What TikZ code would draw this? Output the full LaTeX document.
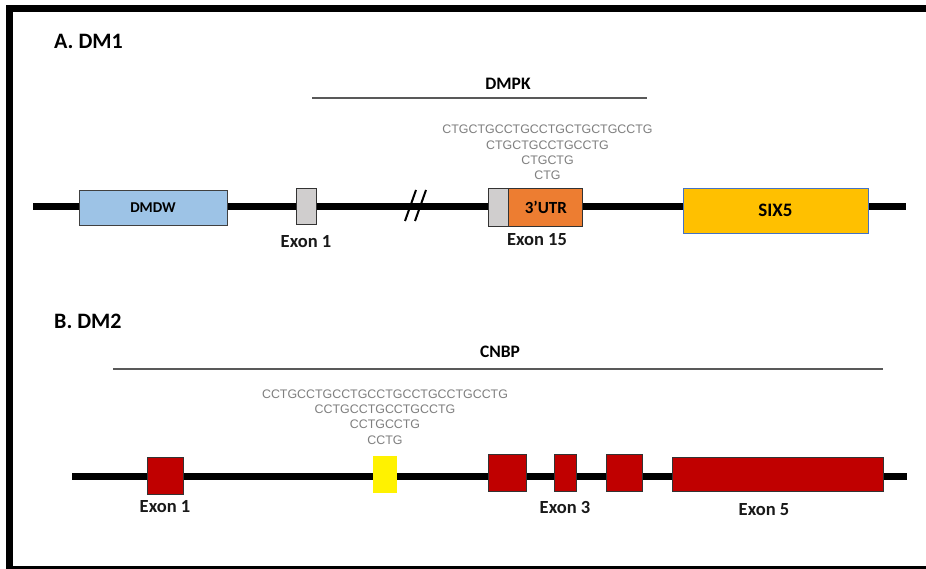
\documentclass[tikz,border=0pt]{standalone}
\usepackage{fontspec}
\setmainfont{Carlito}
\newfontfamily\seqfont{Liberation Sans}
\usetikzlibrary{positioning}

\definecolor{dmdwblue}{HTML}{9DC3E6}
\definecolor{exongray}{HTML}{D0CECE}
\definecolor{utrorange}{HTML}{ED7D31}
\definecolor{sixyellow}{HTML}{FFC000}
\definecolor{sixborder}{HTML}{4472C4}
\definecolor{exonred}{HTML}{C00000}
\definecolor{seqgray}{HTML}{7F7F7F}

\tikzset{
  backbone/.style={line width=7pt},
  geneline/.style={line width=1.2pt, draw=black!65},
  box/.style={draw=black!80, line width=0.8pt, inner sep=0pt},
  redexon/.style={box, fill=exonred, minimum height=37},
  lbl/.style={font=\bfseries\fontsize{18.5}{20}\selectfont, inner sep=0pt, text=black!90},
  title/.style={font=\bfseries\fontsize{22}{24}\selectfont, inner sep=0pt, anchor=west},
  genename/.style={font=\bfseries\fontsize{17.5}{19}\selectfont, inner sep=0pt},
  seq/.style={font=\seqfont\fontsize{12.4}{15.4}\selectfont, text=seqgray, align=center, inner sep=0pt}
}

\begin{document}
\begin{tikzpicture}[x=1pt,y=-1pt]
  \useasboundingbox (0,0) rectangle (926,569);
  \clip (0,0) rectangle (926,569);
  \fill[white] (0,0) rectangle (926,569);
  % frame, open on the right
  \draw[line width=7pt] (940,8.5) -- (9.5,8.5) -- (9.5,569.5) -- (940,569.5);

  % A. DM1
  \node[title] (dmone) at (54,41) {A. DM1};
  \coordinate (dmpkl) at (312,98);
  \coordinate (dmpkr) at (647,98);
  \draw[geneline] (dmpkl) -- (dmpkr);
  \node[genename] (dmpk) at (508,83.5) {DMPK};

  \coordinate (astart) at (33,206.5);
  \coordinate (aend) at (906,206.5);
  \draw[backbone] (astart) -- (aend);
  \coordinate (brka) at (405,221);
  \coordinate (brkb) at (416,190);
  \draw[line width=2pt] (brka) -- (brkb);
  \draw[line width=2pt] ([xshift=10pt]brka) -- ([xshift=10pt]brkb);

  \node[box, fill=dmdwblue, draw=black!75, minimum width=148, minimum height=35] (dmdw) at (153,208)
       {\bfseries\fontsize{15}{16}\selectfont DMDW};
  \node[box, fill=exongray, minimum width=20, minimum height=36] (exa1) at (306,206) {};
  \node[lbl, below=11pt of exa1] (exa1lbl) {Exon 1};
  \node[box, fill=exongray, minimum width=20, minimum height=38] (exa15) at (498,207) {};
  \node[box, fill=utrorange, minimum width=74, minimum height=38, right=0pt of exa15]
       (utr) {\bfseries\fontsize{17}{19}\selectfont 3’UTR};
  \node[lbl] (exa15lbl) at (537,240) {Exon 15};
  \node[box, fill=sixyellow, draw=sixborder, minimum width=185, minimum height=45] (six) at (775.5,210.5)
       {\bfseries\fontsize{19}{21}\selectfont SIX5};
  \node[seq] (ctg) at (547.5,152.5) {CTGCTGCCTGCCTGCTGCTGCCTG\\CTGCTGCCTGCCTG\\CTGCTG\\CTG};

  % B. DM2
  \node[title] (dmtwo) at (54,321) {B. DM2};
  \coordinate (cnbpl) at (113,369);
  \coordinate (cnbpr) at (883,369);
  \draw[geneline] (cnbpl) -- (cnbpr);
  \node[genename] (cnbp) at (500,352) {CNBP};

  \coordinate (bstart) at (72,476.5);
  \coordinate (bend) at (907,476.5);
  \draw[backbone] (bstart) -- (bend);

  \node[redexon, minimum width=36] (exb1) at (165,475.5) {};
  \node[lbl, below=6pt of exb1] (exb1lbl) {Exon 1};
  \node[fill=yellow, inner sep=0pt, minimum width=24, minimum height=37] (rep) at (385,474.5) {};
  \node[redexon, minimum width=38] (exb2) at (507,472.5) {};
  \node[redexon, minimum width=22] (exb3) at (565,472.5) {};
  \node[lbl, below=10pt of exb3] (exb3lbl) {Exon 3};
  \node[redexon, minimum width=36] (exb4) at (624,472.5) {};
  \node[redexon, minimum width=211, minimum height=34] (exb5) at (777.5,474) {};
  \node[lbl] (exb5lbl) at (764,509.5) {Exon 5};
  \node[seq] (cctg) at (385,417) {CCTGCCTGCCTGCCTGCCTGCCTGCCTG\\CCTGCCTGCCTGCCTG\\CCTGCCTG\\CCTG};
\end{tikzpicture}
\end{document}
